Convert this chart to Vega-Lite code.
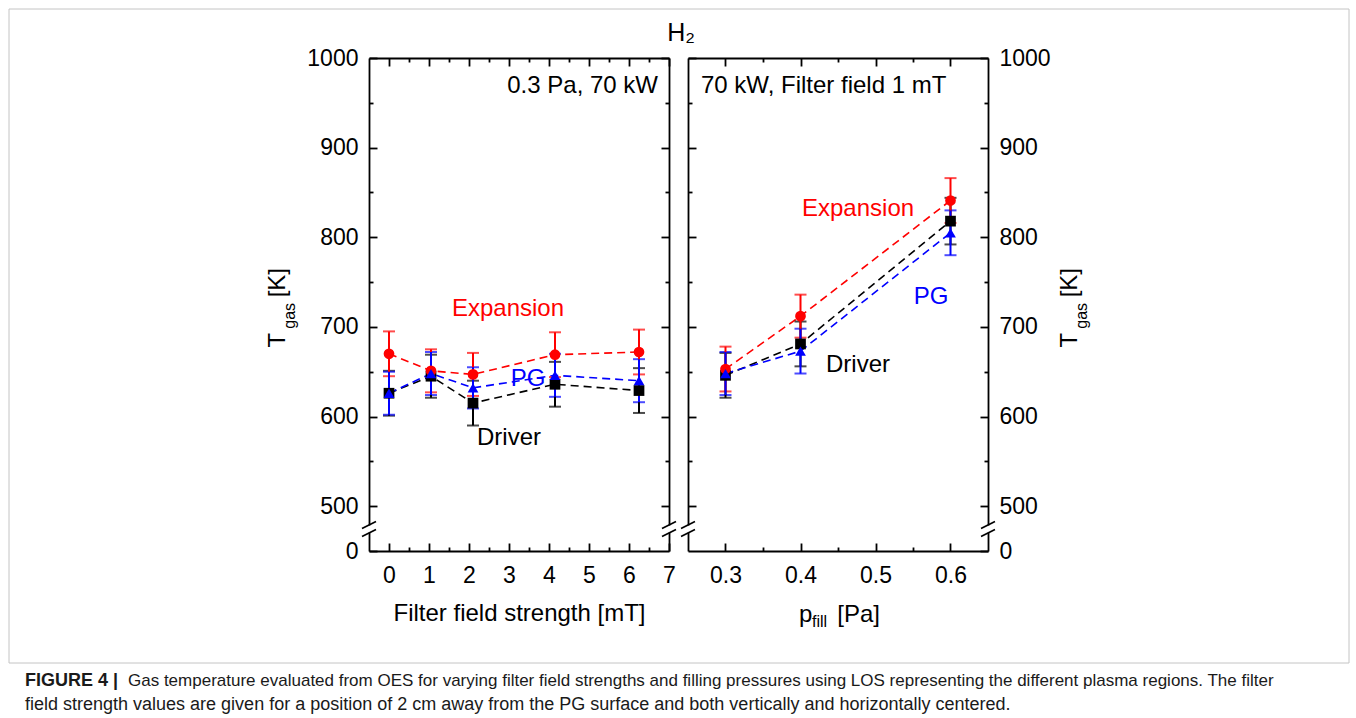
{
  "$schema": "https://vega.github.io/schema/vega-lite/v6.json",
  "padding": {"left": 8, "top": 8, "right": 8, "bottom": 0},
  "background": "white",
  "datasets": {
    "left": [
      {"series": "Driver", "x": 0, "y": 626, "lo": 601, "hi": 651},
      {"series": "Driver", "x": 1.05, "y": 645, "lo": 621, "hi": 669},
      {"series": "Driver", "x": 2.1, "y": 615, "lo": 590, "hi": 640},
      {"series": "Driver", "x": 4.15, "y": 636, "lo": 611, "hi": 661},
      {"series": "Driver", "x": 6.25, "y": 629, "lo": 604, "hi": 654},
      {"series": "Expansion", "x": 0, "y": 670, "lo": 645, "hi": 695},
      {"series": "Expansion", "x": 1.05, "y": 651, "lo": 627, "hi": 675},
      {"series": "Expansion", "x": 2.1, "y": 647, "lo": 623, "hi": 671},
      {"series": "Expansion", "x": 4.15, "y": 669, "lo": 644, "hi": 694},
      {"series": "Expansion", "x": 6.25, "y": 672, "lo": 647, "hi": 697},
      {"series": "PG", "x": 0, "y": 626, "lo": 602, "hi": 650},
      {"series": "PG", "x": 1.05, "y": 648, "lo": 624, "hi": 672},
      {"series": "PG", "x": 2.1, "y": 632, "lo": 609, "hi": 655},
      {"series": "PG", "x": 4.15, "y": 646, "lo": 622, "hi": 670},
      {"series": "PG", "x": 6.25, "y": 640, "lo": 616, "hi": 664}
    ],
    "right": [
      {"series": "Driver", "x": 0.3, "y": 646, "lo": 621, "hi": 671},
      {"series": "Driver", "x": 0.4, "y": 681, "lo": 656, "hi": 706},
      {"series": "Driver", "x": 0.6, "y": 818, "lo": 792, "hi": 844},
      {"series": "Expansion", "x": 0.3, "y": 653, "lo": 628, "hi": 678},
      {"series": "Expansion", "x": 0.4, "y": 712, "lo": 688, "hi": 736},
      {"series": "Expansion", "x": 0.6, "y": 841, "lo": 816, "hi": 866},
      {"series": "PG", "x": 0.3, "y": 648, "lo": 624, "hi": 672},
      {"series": "PG", "x": 0.4, "y": 673, "lo": 648, "hi": 698},
      {"series": "PG", "x": 0.6, "y": 805, "lo": 780, "hi": 830}
    ],
    "notesLeft": [
      {"label": "Expansion", "series": "Expansion", "x": 2.975, "y": 720},
      {"label": "PG", "series": "PG", "x": 3.475, "y": 642},
      {"label": "Driver", "series": "Driver", "x": 3.0, "y": 576}
    ],
    "notesRight": [
      {"label": "Expansion", "series": "Expansion", "x": 0.4767, "y": 831.5},
      {"label": "PG", "series": "PG", "x": 0.574, "y": 733.4},
      {"label": "Driver", "series": "Driver", "x": 0.4767, "y": 657.5}
    ],
    "maskLeft": [{"x": -0.5, "ylo": 470.5, "yhi": 478.5}, {"x": 7, "ylo": 470.5, "yhi": 478.5}],
    "maskRight": [{"x": 0.25, "ylo": 470.5, "yhi": 478.5}, {"x": 0.65, "ylo": 470.5, "yhi": 478.5}],
    "slashLeft": [
      {"xa": -0.675, "xb": -0.325, "ya": 475.1, "yb": 482.9},
      {"xa": -0.675, "xb": -0.325, "ya": 466.1, "yb": 473.9},
      {"xa": 6.825, "xb": 7.175, "ya": 475.1, "yb": 482.9},
      {"xa": 6.825, "xb": 7.175, "ya": 466.1, "yb": 473.9}
    ],
    "slashRight": [
      {"xa": 0.2407, "xb": 0.2593, "ya": 475.1, "yb": 482.9},
      {"xa": 0.2407, "xb": 0.2593, "ya": 466.1, "yb": 473.9},
      {"xa": 0.6407, "xb": 0.6593, "ya": 475.1, "yb": 482.9},
      {"xa": 0.6407, "xb": 0.6593, "ya": 466.1, "yb": 473.9}
    ]
  },
  "vconcat": [
    {
      "spacing": 19,
      "bounds": "flush",
      "hconcat": [
        {
          "width": 341,
          "height": 493,
          "data": {"values": [{"x0": 0, "x1": 1340, "y0": -112, "y1": 542}]},
          "mark": {"type": "rect", "fillOpacity": 0, "stroke": "#c4c4c4", "strokeWidth": 1},
          "encoding": {
            "x": {"field": "x0", "type": "quantitative", "scale": {"domain": [0, 341], "nice": false, "zero": false}, "axis": null},
            "x2": {"field": "x1"},
            "y": {"field": "y0", "type": "quantitative", "scale": {"domain": [0, 493], "nice": false, "zero": false}, "axis": null},
            "y2": {"field": "y1"}
          }
        },
        {
          "width": 300,
          "height": 493,
          "resolve": {"axis": {"x": "independent", "y": "independent"}},
          "layer": [
            {
              "data": {"name": "left"},
              "mark": {"type": "line", "strokeDash": [8, 5], "strokeWidth": 1.6},
              "encoding": {
                "x": {"field": "x", "type": "quantitative", "scale": {"domain": [-0.5, 7], "nice": false, "zero": false},
                  "axis": {"orient": "bottom", "values": [0, 1, 2, 3, 4, 5, 6, 7], "format": "d", "tickSize": -8, "labelPadding": 21, "labelFlush": false, "labelOverlap": false, "title": "Filter field strength [mT]", "titlePadding": 14}},
                "y": {"field": "y", "type": "quantitative", "scale": {"domain": [450, 1000], "nice": false, "zero": false},
                  "axis": {"orient": "left", "values": [450, 500, 600, 700, 800, 900, 1000], "format": "d", "labelExpr": "datum.value == 450 ? '0' : datum.label", "tickSize": -8, "labelPadding": 19, "labelOverlap": false, "title": null}},
                "color": {"field": "series", "type": "nominal", "scale": {"domain": ["Driver", "Expansion", "PG"], "range": ["#000000", "#ff0000", "#0000ff"]}, "legend": null}
              }
            },
            {
              "data": {"name": "left"},
              "mark": {"type": "errorbar", "ticks": true, "size": 12, "thickness": 2},
              "encoding": {
                "x": {"field": "x", "type": "quantitative", "scale": {"domain": [-0.5, 7], "nice": false, "zero": false}, "axis": null},
                "y": {"field": "lo", "type": "quantitative", "scale": {"domain": [450, 1000], "nice": false, "zero": false}, "axis": null},
                "y2": {"field": "hi"},
                "color": {"field": "series", "type": "nominal", "legend": null}
              }
            },
            {
              "data": {"name": "left"},
              "mark": {"type": "point", "filled": true, "opacity": 1, "size": 115},
              "encoding": {
                "x": {"field": "x", "type": "quantitative", "scale": {"domain": [-0.5, 7], "nice": false, "zero": false},
                  "axis": {"orient": "top", "values": [0, 1, 2, 3, 4, 5, 6, 7], "labels": false, "tickSize": -8, "title": null}},
                "y": {"field": "y", "type": "quantitative", "scale": {"domain": [450, 1000], "nice": false, "zero": false},
                  "axis": {"orient": "right", "values": [500, 600, 700, 800, 900, 1000], "labels": false, "tickSize": -8, "title": null}},
                "color": {"field": "series", "type": "nominal", "legend": null},
                "shape": {"field": "series", "type": "nominal", "scale": {"domain": ["Driver", "Expansion", "PG"], "range": ["square", "circle", "triangle-up"]}, "legend": null}
              }
            },
            {
              "data": {"name": "notesLeft"},
              "mark": {"type": "text", "fontSize": 24, "align": "center", "baseline": "middle"},
              "encoding": {
                "x": {"field": "x", "type": "quantitative", "scale": {"domain": [-0.5, 7], "nice": false, "zero": false},
                  "axis": {"orient": "bottom", "values": [0.5, 1.5, 2.5, 3.5, 4.5, 5.5, 6.5], "labels": false, "domain": false, "tickSize": -4, "title": null}},
                "y": {"field": "y", "type": "quantitative", "scale": {"domain": [450, 1000], "nice": false, "zero": false},
                  "axis": {"orient": "left", "values": [550, 650, 750, 850, 950], "labels": false, "domain": false, "tickSize": -4, "title": null}},
                "text": {"field": "label"},
                "color": {"field": "series", "type": "nominal", "legend": null}
              }
            },
            {
              "data": {"values": [{"label": "0.3 Pa, 70 kW", "x": 6.725, "y": 969}]},
              "mark": {"type": "text", "fontSize": 24, "align": "right", "baseline": "middle", "color": "black"},
              "encoding": {
                "x": {"field": "x", "type": "quantitative", "scale": {"domain": [-0.5, 7], "nice": false, "zero": false}, "axis": null},
                "y": {"field": "y", "type": "quantitative", "scale": {"domain": [450, 1000], "nice": false, "zero": false}, "axis": null},
                "text": {"field": "label"}
              }
            },
            {
              "data": {"name": "maskLeft"},
              "mark": {"type": "rule", "color": "white", "strokeWidth": 6},
              "encoding": {
                "x": {"field": "x", "type": "quantitative", "scale": {"domain": [-0.5, 7], "nice": false, "zero": false}, "axis": null},
                "y": {"field": "ylo", "type": "quantitative", "scale": {"domain": [450, 1000], "nice": false, "zero": false}, "axis": null},
                "y2": {"field": "yhi"}
              }
            },
            {
              "data": {"name": "slashLeft"},
              "mark": {"type": "rule", "color": "black", "strokeWidth": 1.6},
              "encoding": {
                "x": {"field": "xa", "type": "quantitative", "scale": {"domain": [-0.5, 7], "nice": false, "zero": false},
                  "axis": {"orient": "top", "values": [0.5, 1.5, 2.5, 3.5, 4.5, 5.5, 6.5], "labels": false, "domain": false, "tickSize": -4, "title": null}},
                "x2": {"field": "xb"},
                "y": {"field": "ya", "type": "quantitative", "scale": {"domain": [450, 1000], "nice": false, "zero": false},
                  "axis": {"orient": "right", "values": [550, 650, 750, 850, 950], "labels": false, "domain": false, "tickSize": -4, "title": null}},
                "y2": {"field": "yb"}
              }
            },
            {
              "data": {"values": [{"t": "T", "x": -2.6, "y": 677}, {"t": "[K]", "x": -2.6, "y": 733}]},
              "mark": {"type": "text", "fontSize": 24, "angle": 270, "align": "left", "baseline": "alphabetic", "color": "black"},
              "encoding": {
                "x": {"field": "x", "type": "quantitative", "scale": {"domain": [-0.5, 7], "nice": false, "zero": false}, "axis": null},
                "y": {"field": "y", "type": "quantitative", "scale": {"domain": [450, 1000], "nice": false, "zero": false}, "axis": null},
                "text": {"field": "t"}
              }
            },
            {
              "data": {"values": [{"t": "gas", "x": -2.35, "y": 698}]},
              "mark": {"type": "text", "fontSize": 16, "angle": 270, "align": "left", "baseline": "alphabetic", "color": "black"},
              "encoding": {
                "x": {"field": "x", "type": "quantitative", "scale": {"domain": [-0.5, 7], "nice": false, "zero": false}, "axis": null},
                "y": {"field": "y", "type": "quantitative", "scale": {"domain": [450, 1000], "nice": false, "zero": false}, "axis": null},
                "text": {"field": "t"}
              }
            }
          ]
        },
        {
          "width": 300,
          "height": 493,
          "title": {"text": "H₂", "anchor": "start", "dx": -13, "fontSize": 25, "fontWeight": "normal", "offset": 1},
          "resolve": {"axis": {"x": "independent", "y": "independent"}},
          "layer": [
            {
              "data": {"name": "right"},
              "mark": {"type": "line", "strokeDash": [8, 5], "strokeWidth": 1.6},
              "encoding": {
                "x": {"field": "x", "type": "quantitative", "scale": {"domain": [0.25, 0.65], "nice": false, "zero": false},
                  "axis": {"orient": "bottom", "values": [0.3, 0.4, 0.5, 0.6], "format": ".1f", "tickSize": -8, "labelPadding": 21, "labelFlush": false, "labelOverlap": false, "title": null}},
                "y": {"field": "y", "type": "quantitative", "scale": {"domain": [450, 1000], "nice": false, "zero": false},
                  "axis": {"orient": "right", "values": [450, 500, 600, 700, 800, 900, 1000], "format": "d", "labelExpr": "datum.value == 450 ? '0' : datum.label", "tickSize": -8, "labelPadding": 19, "labelOverlap": false, "title": null}},
                "color": {"field": "series", "type": "nominal", "scale": {"domain": ["Driver", "Expansion", "PG"], "range": ["#000000", "#ff0000", "#0000ff"]}, "legend": null}
              }
            },
            {
              "data": {"name": "right"},
              "mark": {"type": "errorbar", "ticks": true, "size": 12, "thickness": 2},
              "encoding": {
                "x": {"field": "x", "type": "quantitative", "scale": {"domain": [0.25, 0.65], "nice": false, "zero": false}, "axis": null},
                "y": {"field": "lo", "type": "quantitative", "scale": {"domain": [450, 1000], "nice": false, "zero": false}, "axis": null},
                "y2": {"field": "hi"},
                "color": {"field": "series", "type": "nominal", "legend": null}
              }
            },
            {
              "data": {"name": "right"},
              "mark": {"type": "point", "filled": true, "opacity": 1, "size": 115},
              "encoding": {
                "x": {"field": "x", "type": "quantitative", "scale": {"domain": [0.25, 0.65], "nice": false, "zero": false},
                  "axis": {"orient": "top", "values": [0.3, 0.4, 0.5, 0.6], "labels": false, "tickSize": -8, "title": null}},
                "y": {"field": "y", "type": "quantitative", "scale": {"domain": [450, 1000], "nice": false, "zero": false},
                  "axis": {"orient": "left", "values": [500, 600, 700, 800, 900, 1000], "labels": false, "tickSize": -8, "title": null}},
                "color": {"field": "series", "type": "nominal", "legend": null},
                "shape": {"field": "series", "type": "nominal", "scale": {"domain": ["Driver", "Expansion", "PG"], "range": ["square", "circle", "triangle-up"]}, "legend": null}
              }
            },
            {
              "data": {"name": "notesRight"},
              "mark": {"type": "text", "fontSize": 24, "align": "center", "baseline": "middle"},
              "encoding": {
                "x": {"field": "x", "type": "quantitative", "scale": {"domain": [0.25, 0.65], "nice": false, "zero": false},
                  "axis": {"orient": "bottom", "values": [0.35, 0.45, 0.55], "labels": false, "domain": false, "tickSize": -4, "title": null}},
                "y": {"field": "y", "type": "quantitative", "scale": {"domain": [450, 1000], "nice": false, "zero": false},
                  "axis": {"orient": "right", "values": [550, 650, 750, 850, 950], "labels": false, "domain": false, "tickSize": -4, "title": null}},
                "text": {"field": "label"},
                "color": {"field": "series", "type": "nominal", "legend": null}
              }
            },
            {
              "data": {"values": [{"label": "70 kW, Filter field 1 mT", "x": 0.2673, "y": 969}]},
              "mark": {"type": "text", "fontSize": 24, "align": "left", "baseline": "middle", "color": "black"},
              "encoding": {
                "x": {"field": "x", "type": "quantitative", "scale": {"domain": [0.25, 0.65], "nice": false, "zero": false}, "axis": null},
                "y": {"field": "y", "type": "quantitative", "scale": {"domain": [450, 1000], "nice": false, "zero": false}, "axis": null},
                "text": {"field": "label"}
              }
            },
            {
              "data": {"name": "maskRight"},
              "mark": {"type": "rule", "color": "white", "strokeWidth": 6},
              "encoding": {
                "x": {"field": "x", "type": "quantitative", "scale": {"domain": [0.25, 0.65], "nice": false, "zero": false}, "axis": null},
                "y": {"field": "ylo", "type": "quantitative", "scale": {"domain": [450, 1000], "nice": false, "zero": false}, "axis": null},
                "y2": {"field": "yhi"}
              }
            },
            {
              "data": {"name": "slashRight"},
              "mark": {"type": "rule", "color": "black", "strokeWidth": 1.6},
              "encoding": {
                "x": {"field": "xa", "type": "quantitative", "scale": {"domain": [0.25, 0.65], "nice": false, "zero": false},
                  "axis": {"orient": "top", "values": [0.35, 0.45, 0.55], "labels": false, "domain": false, "tickSize": -4, "title": null}},
                "x2": {"field": "xb"},
                "y": {"field": "ya", "type": "quantitative", "scale": {"domain": [450, 1000], "nice": false, "zero": false},
                  "axis": {"orient": "left", "values": [550, 650, 750, 850, 950], "labels": false, "domain": false, "tickSize": -4, "title": null}},
                "y2": {"field": "yb"}
              }
            },
            {
              "data": {"values": [{"t": "T", "x": 0.7687, "y": 677}, {"t": "[K]", "x": 0.7687, "y": 733}, {"t": "p", "x": 0.398, "y": 370.8}, {"t": "[Pa]", "x": 0.449, "y": 370.8}]},
              "mark": {"type": "text", "fontSize": 24, "align": "left", "baseline": "alphabetic", "color": "black"},
              "encoding": {
                "x": {"field": "x", "type": "quantitative", "scale": {"domain": [0.25, 0.65], "nice": false, "zero": false}, "axis": null},
                "y": {"field": "y", "type": "quantitative", "scale": {"domain": [450, 1000], "nice": false, "zero": false}, "axis": null},
                "text": {"field": "t"},
                "angle": {"condition": {"test": "datum.t == 'p' || datum.t == '[Pa]'", "value": 0}, "value": 270}
              }
            },
            {
              "data": {"values": [{"t": "gas", "x": 0.782, "y": 698}, {"t": "fill", "x": 0.4153, "y": 365.2}]},
              "mark": {"type": "text", "fontSize": 16, "align": "left", "baseline": "alphabetic", "color": "black"},
              "encoding": {
                "x": {"field": "x", "type": "quantitative", "scale": {"domain": [0.25, 0.65], "nice": false, "zero": false}, "axis": null},
                "y": {"field": "y", "type": "quantitative", "scale": {"domain": [450, 1000], "nice": false, "zero": false}, "axis": null},
                "text": {"field": "t"},
                "angle": {"condition": {"test": "datum.t == 'fill'", "value": 0}, "value": 270}
              }
            }
          ]
        }
      ]
    },
    {
      "width": 1340,
      "height": 56,
      "layer": [
        {
          "data": {"values": [{"t": "FIGURE 4 |", "x": 16, "y": 22}]},
          "mark": {"type": "text", "align": "left", "baseline": "alphabetic", "fontSize": 18, "fontWeight": "bold", "color": "#1a1a1a"},
          "encoding": {
            "x": {"field": "x", "type": "quantitative", "scale": {"domain": [0, 1340], "nice": false, "zero": false}, "axis": null},
            "y": {"field": "y", "type": "quantitative", "scale": {"domain": [0, 56], "reverse": true, "nice": false, "zero": false}, "axis": null},
            "text": {"field": "t"}
          }
        },
        {
          "data": {"values": [
            {"t": "Gas temperature evaluated from OES for varying filter field strengths and filling pressures using LOS representing the different plasma regions. The filter", "x": 119, "y": 22}
          ]},
          "mark": {"type": "text", "align": "left", "baseline": "alphabetic", "fontSize": 17, "color": "#1a1a1a"},
          "encoding": {
            "x": {"field": "x", "type": "quantitative", "scale": {"domain": [0, 1340], "nice": false, "zero": false}, "axis": null},
            "y": {"field": "y", "type": "quantitative", "scale": {"domain": [0, 56], "reverse": true, "nice": false, "zero": false}, "axis": null},
            "text": {"field": "t"}
          }
        },
        {
          "data": {"values": [
            {"t": "field strength values are given for a position of 2 cm away from the PG surface and both vertically and horizontally centered.", "x": 16, "y": 46}
          ]},
          "mark": {"type": "text", "align": "left", "baseline": "alphabetic", "fontSize": 18, "color": "#1a1a1a"},
          "encoding": {
            "x": {"field": "x", "type": "quantitative", "scale": {"domain": [0, 1340], "nice": false, "zero": false}, "axis": null},
            "y": {"field": "y", "type": "quantitative", "scale": {"domain": [0, 56], "reverse": true, "nice": false, "zero": false}, "axis": null},
            "text": {"field": "t"}
          }
        }
      ]
    }
  ],
  "spacing": 0,
  "config": {
    "font": "Liberation Sans",
    "view": {"stroke": null},
    "axis": {
      "domainColor": "black", "tickColor": "black", "labelColor": "black", "titleColor": "black",
      "domainWidth": 1.8, "tickWidth": 1.8, "labelFont": "Liberation Sans", "titleFont": "Liberation Sans",
      "labelFontSize": 23, "titleFontSize": 24, "titleFontWeight": "normal", "grid": false
    },
    "title": {"font": "Liberation Sans", "color": "black"}
  }
}
